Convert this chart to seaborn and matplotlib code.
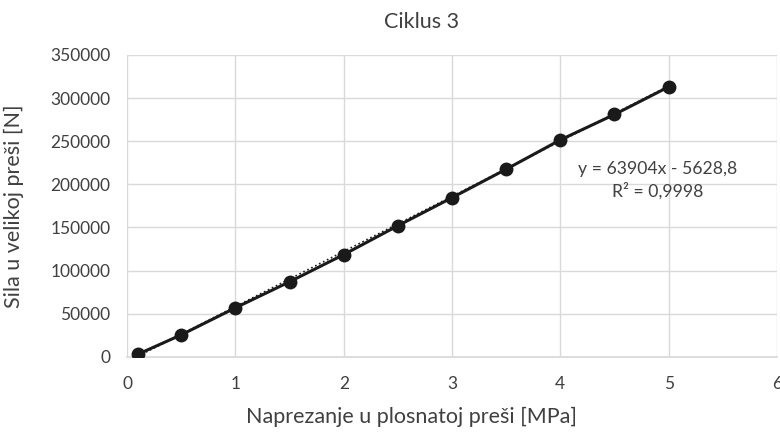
import numpy as np
import pandas as pd
import matplotlib
matplotlib.use("Agg")
import matplotlib.pyplot as plt
import seaborn as sns

# pressure in the flat press [MPa] vs force in the large press [N]
naprezanje = [0.1, 0.5, 1.0, 1.5, 2.0, 2.5, 3.0, 3.5, 4.0, 4.5, 5.0]
sila = [3000, 25500, 56800, 87000, 118500, 152000, 184500, 217500, 251500, 281000, 313000]

# linear trendline reported on the chart
slope = 63904
intercept = -5628.8
r2 = 0.9998

sns.set_theme(style="whitegrid")
plt.rcParams["font.family"] = ["Lato", "DejaVu Sans"]

df = pd.DataFrame({"x": naprezanje, "y": sila})
trend_x = [naprezanje[0], naprezanje[-1]]
trend = pd.DataFrame({"x": trend_x, "y": [slope * v + intercept for v in trend_x]})

fig, ax = plt.subplots(figsize=(7.8, 4.33), dpi=100)
fig.subplots_adjust(left=0.163, right=0.996, top=0.873, bottom=0.176)

sns.lineplot(data=df, x="x", y="y", ax=ax, color="#1a1a1a", linewidth=2.2,
             marker="o", markersize=10, markeredgewidth=0, zorder=3)
sns.lineplot(data=trend, x="x", y="y", ax=ax, color="#1a1a1a", linewidth=1.2,
             linestyle=":", zorder=2)

ax.set_xlim(0, 6)
ax.set_ylim(0, 350000)
ax.set_xticks(range(0, 7))
ax.set_yticks(range(0, 350001, 50000))
ax.tick_params(axis="both", labelsize=12.5, colors="#404040", length=0)
ax.tick_params(axis="x", pad=14)
ax.tick_params(axis="y", pad=12)
ax.grid(True, color="#d9d9d9", linewidth=1)
for s in ["top", "right", "left"]:
    ax.spines[s].set_visible(False)
ax.spines["bottom"].set_color("#d9d9d9")

ax.set_xlabel("Naprezanje u plosnatoj preši [MPa]", fontsize=15.5, color="#404040")
ax.xaxis.set_label_coords(0.438, -0.165)
ax.set_ylabel("Sila u velikoj preši [N]", fontsize=15.5, color="#404040")
ax.yaxis.set_label_coords(-0.158, 0.5)
fig.text(0.541, 0.949, "Ciklus 3", fontsize=15.5, color="#404040", ha="center", va="center")

ax.text(4.9, 205000, f"y = {slope}x - 5628,8\nR² = 0,9998",
        fontsize=12.7, color="#404040", ha="center", va="center", linespacing=1.35)

fig.savefig("out.png", dpi=100)
